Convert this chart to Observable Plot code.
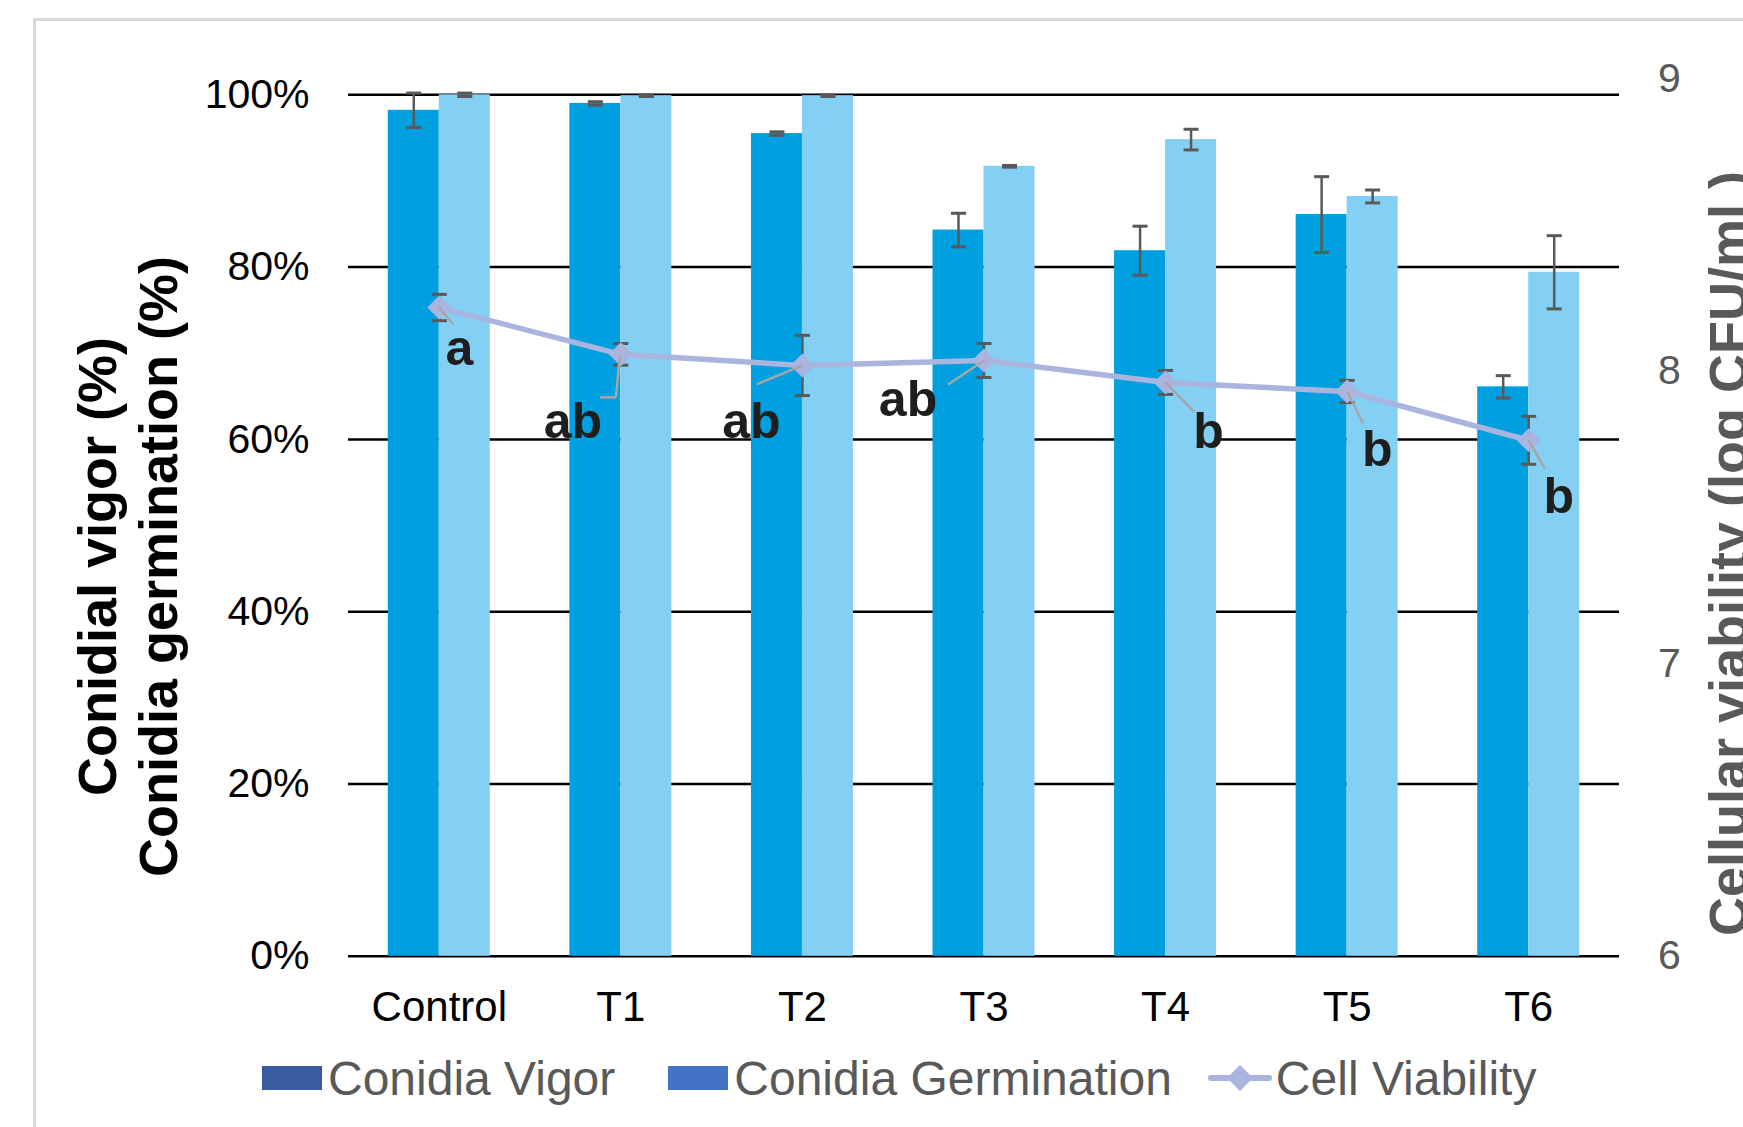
<!DOCTYPE html>
<html>
<head>
<meta charset="utf-8">
<script src="https://cdn.jsdelivr.net/npm/d3@7"></script>
<script src="https://cdn.jsdelivr.net/npm/@observablehq/plot@0.6"></script>
<style>
  html, body { margin: 0; padding: 0; background: #fff; }
  #wrap { position: relative; width: 1743px; height: 1127px; overflow: hidden; font-family: "Liberation Sans", Arial, sans-serif; }
  #frame { position: absolute; left: 33px; top: 18px; width: 2000px; height: 2000px; border-left: 3px solid #d9d9d9; border-top: 3px solid #d9d9d9; }
  #chart { position: relative; z-index: 1; }
  #legend { position: relative; z-index: 1; display: flex; align-items: center; height: 54px; margin-top: 11px; padding-left: 262px; font-size: 48px; color: #595959; white-space: nowrap; }
  .sw { display: inline-block; width: 60px; height: 24px; margin-right: 6px; }
  .item { display: flex; align-items: center; }
</style>
</head>
<body>
<div id="wrap">
  <div id="frame"></div>
  <div id="chart"></div>
  <div id="legend"></div>
</div>
<script>
// ---------------- data ----------------
const categories = ["Control", "T1", "T2", "T3", "T4", "T5", "T6"];
const vigor = [0.982, 0.990, 0.955, 0.843, 0.819, 0.861, 0.661];
const vigorErr = [0.020, 0.002, 0.002, 0.0195, 0.0285, 0.044, 0.013];
const germination = [1.000, 0.999, 0.999, 0.917, 0.948, 0.882, 0.794];
const germinationErr = [0.002, 0.001, 0.001, 0.001, 0.012, 0.0075, 0.0425];
const viability = [8.218, 8.058, 8.020, 8.037, 7.962, 7.931, 7.764];
const viabilityErr = [0.045, 0.037, 0.103, 0.058, 0.041, 0.038, 0.082];
const letters = ["a", "ab", "ab", "ab", "b", "b", "b"];
const leftTicks = [0, 0.2, 0.4, 0.6, 0.8, 1.0];
const rightTicks = [6, 7, 8, 9];
const seriesNames = ["Conidia Vigor", "Conidia Germination", "Cell Viability"];

// ---------------- layout / style ----------------
const W = 1743, H = 1040;
const ML = 348, MR = 124, MT = 94.3, MB = H - 955.8;
const PXX = (W - ML - MR) / 7;          // px per category unit
const PXY = (H - MT - MB);              // px per 100 %
const RIGHT_UNIT = 292.5;               // px per log unit on the right axis
const frac = v => (v - 6) * RIGHT_UNIT / PXY;  // map right-axis value into left scale
const BW = 51 / PXX;                    // bar width
const CAP = 7.5 / PXX;                  // half cap width
const FONT = "Liberation Sans, Arial, sans-serif";
const C_VIG = "#009FE0", C_GER = "#84D0F5", C_LINE = "#A9B5DE", C_ERR = "#595959";

// letter label offsets (px from point) and leader segments (px from point)
const labelOff = [[20, 41], [-48, 68], [-51, 57], [-76, 40], [43, 50], [30, 59], [30, 57]];
const leaderSegs = [
  [0, [0, 0], [14, 17]],
  [1, [-1, 2], [-5, 43]], [1, [-5, 43], [-21, 43]],
  [2, [0, 0], [-46, 19]],
  [3, [0, 0], [-36, 24]],
  [4, [0, 0], [29, 30]],
  [5, [0, 0], [16, 32]],
  [6, [0, 0], [16, 28]]
];

const rows = categories.map((c, i) => ({
  i, c,
  vigor: vigor[i], vigorErr: vigorErr[i],
  germ: germination[i], germErr: germinationErr[i],
  viab: viability[i], viabErr: viabilityErr[i],
  letter: letters[i]
}));

const errRows = [];
rows.forEach(d => {
  errRows.push({x: d.i - BW / 2, lo: d.vigor - d.vigorErr, hi: d.vigor + d.vigorErr});
  errRows.push({x: d.i + BW / 2, lo: d.germ - d.germErr, hi: d.germ + d.germErr});
});
const viabErrRows = rows.map(d => ({x: d.i, lo: frac(d.viab - d.viabErr), hi: frac(d.viab + d.viabErr)}));
const caps = rs => rs.flatMap(r => [{x: r.x, y: r.lo}, {x: r.x, y: r.hi}]);

const leaders = leaderSegs.map(([i, a, b]) => ({
  x1: i + a[0] / PXX, y1: frac(viability[i]) - a[1] / PXY,
  x2: i + b[0] / PXX, y2: frac(viability[i]) - b[1] / PXY
}));

const diamond = d3.symbolDiamond2 || "diamond";

const plot = Plot.plot({
  width: W, height: H,
  marginLeft: ML, marginRight: MR, marginTop: MT, marginBottom: MB,
  style: {background: "transparent", fontFamily: FONT, overflow: "visible"},
  x: {domain: [-0.5, 6.5], axis: null},
  y: {domain: [0, 1], axis: null},
  marks: [
    Plot.ruleY(leftTicks, {stroke: "#000", strokeWidth: 2.5}),
    Plot.rect(rows, {x1: d => d.i - BW, x2: d => d.i, y1: d => 0, y2: "vigor", fill: C_VIG}),
    Plot.rect(rows, {x1: d => d.i, x2: d => d.i + BW, y1: d => 0, y2: "germ", fill: C_GER}),
    Plot.ruleX(errRows, {x: "x", y1: "lo", y2: "hi", stroke: C_ERR, strokeWidth: 2.5}),
    Plot.link(caps(errRows), {x1: d => d.x - CAP, x2: d => d.x + CAP, y1: "y", y2: "y", stroke: C_ERR, strokeWidth: 3}),
    Plot.ruleX(viabErrRows, {x: "x", y1: "lo", y2: "hi", stroke: C_ERR, strokeWidth: 2.5}),
    Plot.link(caps(viabErrRows), {x1: d => d.x - CAP, x2: d => d.x + CAP, y1: "y", y2: "y", stroke: C_ERR, strokeWidth: 3}),
    Plot.line(rows, {x: "i", y: d => frac(d.viab), stroke: C_LINE, strokeWidth: 5.5}),
    Plot.dot(rows, {x: "i", y: d => frac(d.viab), symbol: diamond, r: 10.8, fill: C_LINE, stroke: "none"}),
    Plot.link(leaders, {x1: "x1", y1: "y1", x2: "x2", y2: "y2", stroke: "#A6A6A6", strokeWidth: 2.5}),
    Plot.text(rows, {
      x: d => d.i + labelOff[d.i][0] / PXX,
      y: d => frac(d.viab) - labelOff[d.i][1] / PXY,
      text: "letter", fontSize: 50, fontWeight: "bold", fill: "#1e1e1e", fontFamily: FONT
    }),
    // left axis tick labels
    Plot.text(leftTicks, {y: d => d, text: d => d3.format(".0%")(d), frameAnchor: "left", textAnchor: "end", lineAnchor: "middle", dx: -39, fontSize: 41, fill: "#000", fontFamily: FONT}),
    // right axis tick labels
    Plot.text(rightTicks, {y: d => frac(d), text: d => String(d), frameAnchor: "right", textAnchor: "middle", lineAnchor: "middle", dx: 50, fontSize: 41, fill: "#595959", fontFamily: FONT}),
    // category labels
    Plot.text(rows, {x: "i", text: "c", frameAnchor: "bottom", textAnchor: "middle", lineAnchor: "middle", dy: 51, fontSize: 42, fill: "#000", fontFamily: FONT}),
    // axis titles
    Plot.text(["Conidial vigor (%)"], {text: d => d, frameAnchor: "left", textAnchor: "middle", lineAnchor: "middle", rotate: -90, dx: -250, dy: 41, fontSize: 54, fontWeight: "bold", fill: "#000", fontFamily: FONT}),
    Plot.text(["Conidia germination (%)"], {text: d => d, frameAnchor: "left", textAnchor: "middle", lineAnchor: "middle", rotate: -90, dx: -189, dy: 41, fontSize: 54, fontWeight: "bold", fill: "#000", fontFamily: FONT}),
    Plot.text(["Cellular viability (log CFU/ml )"], {text: d => d, frameAnchor: "right", textAnchor: "middle", lineAnchor: "middle", rotate: -90, dx: 110, dy: 28, fontSize: 54, fontWeight: "bold", fill: "#595959", fontFamily: FONT})
  ]
});
document.getElementById("chart").appendChild(plot);

// ---------------- legend ----------------
const legend = document.getElementById("legend");
const legendColors = ["#3A5BA0", "#4472C4"];
seriesNames.forEach((name, k) => {
  const item = document.createElement("div");
  item.className = "item";
  if (k === 1) item.style.marginLeft = "53px";
  if (k === 2) item.style.marginLeft = "36px";
  if (k < 2) {
    const sw = document.createElement("span");
    sw.className = "sw";
    sw.style.background = legendColors[k];
    item.appendChild(sw);
  } else {
    const ns = "http://www.w3.org/2000/svg";
    const svg = document.createElementNS(ns, "svg");
    svg.setAttribute("width", 64); svg.setAttribute("height", 30);
    svg.style.marginRight = "4px";
    const ln = document.createElementNS(ns, "line");
    ln.setAttribute("x1", 3); ln.setAttribute("x2", 61); ln.setAttribute("y1", 15); ln.setAttribute("y2", 15);
    ln.setAttribute("stroke", C_LINE); ln.setAttribute("stroke-width", 6); ln.setAttribute("stroke-linecap", "round");
    const dm = document.createElementNS(ns, "path");
    dm.setAttribute("d", "M32,2 L45,15 L32,28 L19,15 Z");
    dm.setAttribute("fill", C_LINE);
    svg.appendChild(ln); svg.appendChild(dm);
    item.appendChild(svg);
  }
  const t = document.createElement("span");
  t.textContent = name;
  item.appendChild(t);
  legend.appendChild(item);
});
</script>
</body>
</html>
